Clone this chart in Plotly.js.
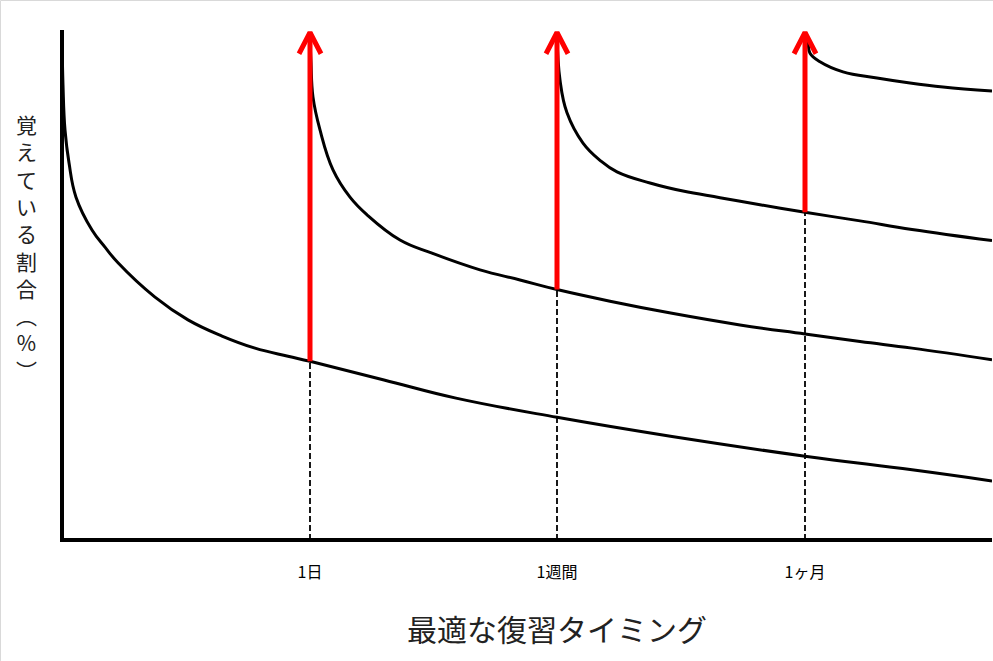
<!DOCTYPE html>
<html>
<head>
<meta charset="utf-8">
<script src="https://cdn.plot.ly/plotly-3.0.1.min.js"></script>
<style>html,body{margin:0;padding:0;background:#fff;}#chart{width:993px;height:661px;}</style>
</head>
<body>
<div id="chart"></div>
<script>
// ---- data (x: elapsed time units, y: retention %) ----
const tickVals = [248, 495, 743];
const tickLabels = ['1日', '1週間', '1ヶ月'];

const curve1X = [0, 1, 3, 7, 14, 30, 43, 56, 93, 126, 160, 193, 226, 248, 322, 394, 495, 610, 743, 850, 930];
const curve1Y = [100, 90.1, 81.2, 74.7, 67.9, 61.4, 58.0, 54.9, 48.1, 43.6, 40.4, 38.0, 36.4, 35.4, 31.7, 28.1, 24.3, 20.5, 16.6, 13.9, 11.7];

const curve2X = [248, 249, 251, 258, 271, 288, 305, 338, 370, 418, 458, 495, 548, 610, 678, 743, 798, 850, 930];
const curve2Y = [100, 94.5, 87.7, 81.2, 73.3, 67.9, 64.4, 59.4, 56.8, 53.5, 51.5, 49.6, 47.3, 44.9, 42.6, 40.8, 39.3, 38.0, 35.7];

const curve3X = [495, 498, 505, 521, 538, 555, 588, 621, 658, 698, 743, 798, 850, 930];
const curve3Y = [100, 91.1, 84.6, 78.6, 75.2, 72.9, 70.7, 69.1, 67.8, 66.4, 64.9, 63.2, 61.5, 59.3];

const curve4X = [743, 746, 748, 758, 781, 815, 848, 881, 930];
const curve4Y = [100, 98.4, 96.4, 94.7, 92.7, 91.5, 90.5, 89.7, 88.9];

const reviewX = [248, 495, 743];
const reviewFrom = [35.4, 49.6, 64.9];
const reviewTo = [100.5, 100.5, 100.5];

const yTitle = '覚えている割合（%）';
const xTitle = '最適な復習タイミング';

// ---- traces ----
const traces = [];
// dashed guides
reviewX.forEach((x, i) => {
  traces.push({x: [x, x], y: [0, reviewFrom[i]], mode: 'lines', hoverinfo: 'skip',
    line: {color: '#000', width: 1.8, dash: '6px,3px'}});
});
// forgetting curves
[[curve1X, curve1Y], [curve2X, curve2Y], [curve3X, curve3Y], [curve4X, curve4Y]].forEach(c => {
  traces.push({x: c[0], y: c[1], mode: 'lines', line: {color: '#000', width: 3, shape: 'spline', smoothing: 1.2}, hoverinfo: 'skip'});
});
// red review arrows
const armDx = 11, armDy = 4.2;
reviewX.forEach((x, i) => {
  traces.push({x: [x, x], y: [reviewFrom[i], reviewTo[i]], mode: 'lines', hoverinfo: 'skip',
    line: {color: '#ff0000', width: 5}});
  traces.push({x: [x - armDx, x, x + armDx], y: [reviewTo[i] - armDy, reviewTo[i], reviewTo[i] - armDy],
    mode: 'lines', hoverinfo: 'skip', line: {color: '#ff0000', width: 5}});
});

// vertical title, one character per line (vertical forms for brackets)
const vChars = Array.from(yTitle).map(ch => ch === '（' ? '︵' : ch === '）' ? '︶' : ch);

const layout = {
  width: 993, height: 661,
  margin: {l: 64, r: 1, t: 30, b: 123},
  paper_bgcolor: '#fff', plot_bgcolor: '#fff',
  showlegend: false,
  font: {family: '"Noto Sans CJK JP", sans-serif', color: '#000'},
  xaxis: {
    range: [2, 930], showgrid: false, zeroline: false,
    showline: true, linecolor: '#000', linewidth: 4,
    tickmode: 'array', tickvals: tickVals, ticktext: tickLabels, ticks: '',
    tickfont: {size: 16, color: '#000', family: '"Noto Sans CJK JP", sans-serif'},
    ticklabelstandoff: 17, fixedrange: true
  },
  yaxis: {
    range: [0.4, 101], showgrid: false, zeroline: false,
    showline: true, linecolor: '#000', linewidth: 4,
    showticklabels: false, ticks: '', fixedrange: true
  },
  annotations: [
    {text: vChars.join('<br>'), xref: 'paper', yref: 'paper', x: -0.0399, y: 0.5728,
      xanchor: 'center', yanchor: 'middle', showarrow: false, align: 'center',
      font: {size: 21, color: '#222', family: '"Noto Sans CJK JP", sans-serif'}},
    {text: xTitle, xref: 'paper', yref: 'paper', x: 0.531, y: -0.1772,
      xanchor: 'center', yanchor: 'middle', showarrow: false,
      font: {size: 30, color: '#222', family: '"Noto Sans CJK JP", sans-serif'}}
  ],
  shapes: [
    {type: 'line', xref: 'paper', yref: 'paper', x0: -0.0684, x1: -0.0684, y0: -0.242, y1: 1.0581,
      line: {color: '#d9d9d9', width: 1}},
    {type: 'line', xref: 'paper', yref: 'paper', x0: -0.0684, x1: 1.0011, y0: 1.0581, y1: 1.0581,
      line: {color: '#d9d9d9', width: 1}}
  ]
};

Plotly.newPlot('chart', traces, layout, {displayModeBar: false, staticPlot: true});
</script>
</body>
</html>
